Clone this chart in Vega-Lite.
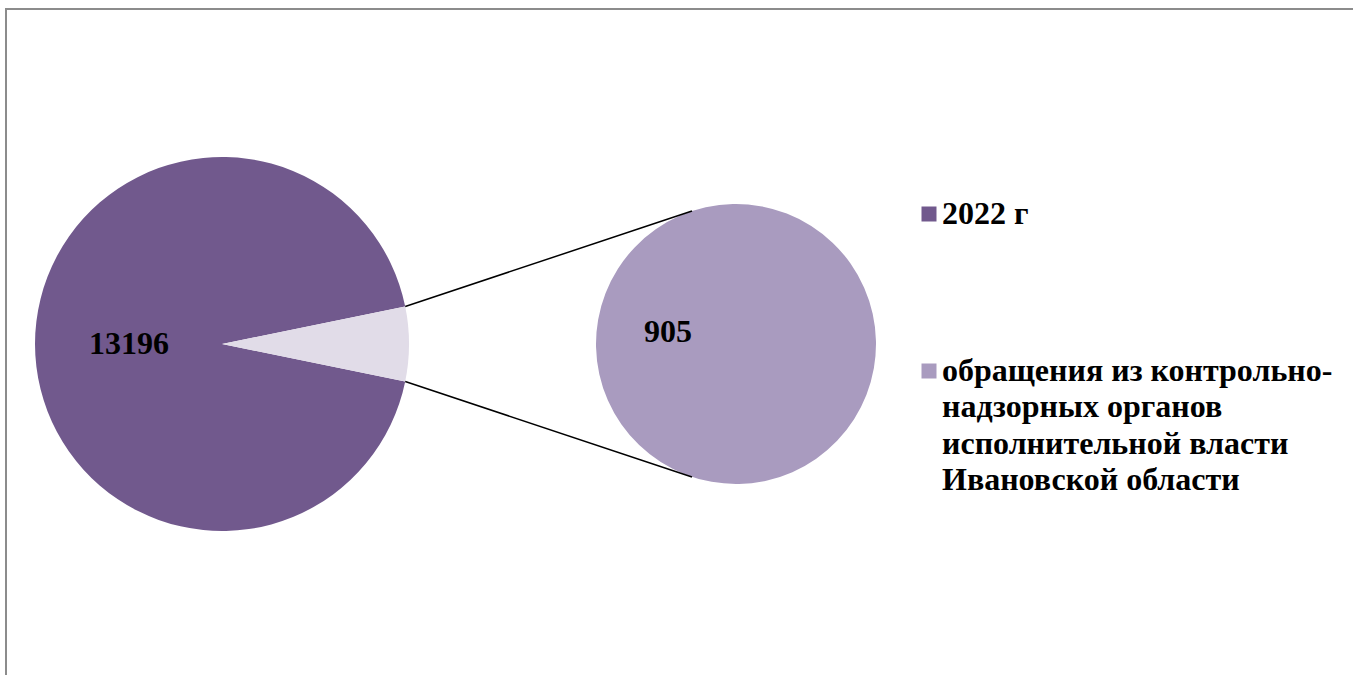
{
  "$schema": "https://vega.github.io/schema/vega-lite/v6.json",
  "width": 1349,
  "height": 668,
  "autosize": {"type": "none"},
  "padding": {"left": 6, "top": 9, "right": -2, "bottom": -2},
  "background": "white",
  "config": {
    "view": {"stroke": "#8C8C8C", "strokeWidth": 2},
    "font": "Liberation Serif"
  },
  "datasets": {
    "main": [
      {"category": "2022 г", "value": 13196},
      {"category": "Прочие", "value": 905}
    ],
    "detail": [
      {"category": "обращения из контрольно-надзорных органов исполнительной власти Ивановской области", "value": 905}
    ]
  },
  "resolve": {"scale": {"theta": "independent"}},
  "layer": [
    {
      "data": {"name": "main"},
      "layer": [
        {
          "mark": {"type": "arc", "radius": 187},
          "encoding": {
            "x": {"datum": 0, "type": "quantitative", "scale": {"domain": [-1.15508, 6.058824], "zero": false, "nice": false}, "axis": null},
            "y": {"datum": 0, "type": "quantitative", "scale": {"domain": [-1.780749, 1.791444], "zero": false, "nice": false}, "axis": null},
            "theta": {"field": "value", "type": "quantitative", "stack": true, "scale": {"range": [1.77242, 8.05561]}},
            "order": {"field": "category", "sort": "ascending"},
            "color": {
              "field": "category",
              "type": "nominal",
              "scale": {
                "domain": ["2022 г", "обращения из контрольно-надзорных органов исполнительной власти Ивановской области", "Прочие"],
                "range": ["#71598D", "#A99BBF", "#E1DCE8"]
              },
              "legend": {
                "title": null,
                "orient": "none",
                "legendX": 907,
                "legendY": 189,
                "padding": 0,
                "values": ["2022 г", "обращения из контрольно-надзорных органов исполнительной власти Ивановской области"],
                "symbolType": "square",
                "symbolSize": 225,
                "symbolStrokeWidth": 0,
                "labelFont": "Liberation Serif",
                "labelFontWeight": "bold",
                "labelFontSize": 32,
                "labelColor": "black",
                "labelLimit": 0,
                "labelOffset": -3,
                "rowPadding": 125,
                "labelExpr": "split(replace(replace(replace(datum.label, 'контрольно-', 'контрольно-|'), ' органов ', ' органов|'), ' власти ', ' власти|'), '|')",
                "encode": {"labels": {"update": {"lineHeight": {"value": 36.4}}}}
              }
            }
          }
        },
        {
          "mark": {"type": "text", "radius": 93, "font": "Liberation Serif", "fontWeight": "bold", "fontSize": 32, "color": "black", "baseline": "middle", "align": "center"},
          "encoding": {
            "x": {"datum": 0, "type": "quantitative"},
            "y": {"datum": 0, "type": "quantitative"},
            "theta": {"field": "value", "type": "quantitative", "stack": true},
            "order": {"field": "category", "sort": "ascending"},
            "text": {"condition": {"test": "datum.category !== '2022 г'", "value": ""}, "field": "value", "type": "quantitative", "format": "d"}
          }
        }
      ]
    },
    {
      "data": {"name": "detail"},
      "layer": [
        {
          "mark": {"type": "arc", "radius": 140},
          "encoding": {
            "x": {"datum": 2.748663, "type": "quantitative"},
            "y": {"datum": 0, "type": "quantitative"},
            "theta": {"field": "value", "type": "quantitative", "stack": true, "scale": {"range": [1.7455, 8.0287]}},
            "color": {"field": "category", "type": "nominal"}
          }
        },
        {
          "mark": {"type": "text", "radius": 69, "font": "Liberation Serif", "fontWeight": "bold", "fontSize": 32, "color": "black", "baseline": "middle", "align": "center"},
          "encoding": {
            "x": {"datum": 2.748663, "type": "quantitative"},
            "y": {"datum": 0, "type": "quantitative"},
            "theta": {"field": "value", "type": "quantitative", "stack": true},
            "text": {"field": "value", "type": "quantitative", "format": "d"}
          }
        }
      ]
    },
    {
      "data": {"name": "detail"},
      "mark": {"type": "rule", "color": "black", "strokeWidth": 1.5},
      "encoding": {
        "x": {"datum": 0.97974, "type": "quantitative"},
        "y": {"datum": 0.20027, "type": "quantitative"},
        "x2": {"datum": 2.51337},
        "y2": {"datum": 0.71123}
      }
    },
    {
      "data": {"name": "detail"},
      "mark": {"type": "rule", "color": "black", "strokeWidth": 1.5},
      "encoding": {
        "x": {"datum": 0.97974, "type": "quantitative"},
        "y": {"datum": -0.20027, "type": "quantitative"},
        "x2": {"datum": 2.51337},
        "y2": {"datum": -0.71123}
      }
    }
  ]
}
